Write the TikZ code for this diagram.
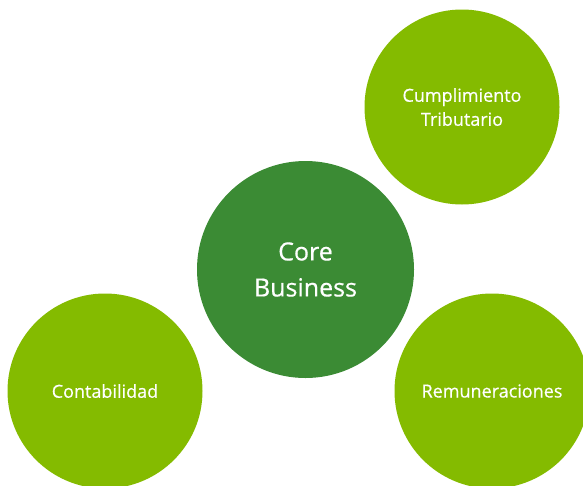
\documentclass[tikz,border=0pt]{standalone}
\usepackage{fontspec}
\setmainfont{Open Sans}
\newfontfamily\labelfont{Open Sans}[FakeBold=0.5]
\definecolor{coregreen}{HTML}{3B8B34}
\definecolor{areagreen}{HTML}{84BB00}
\begin{document}
\begin{tikzpicture}[x=1pt,y=-1pt,
  core/.style={circle, fill=coregreen, draw=none, minimum size=217pt, inner sep=0pt},
  area/.style={circle, fill=areagreen, draw=none, minimum size=195pt, inner sep=0pt},
  bigtext/.style={text=white, align=center, font=\labelfont\fontsize{25}{36}\selectfont},
  smalltext/.style={text=white, align=center, font=\labelfont\fontsize{18}{24}\selectfont}]
\useasboundingbox (0,0) rectangle (583,485);
\begin{scope}
\clip (0,0) rectangle (583,485);
\node [core] (core) at (305.5,269.5) {};
\node [area] (tributario) at (462,107) {};
\node [area] (contabilidad) at (105,391) {};
\node [area] (remuneraciones) at (492,391) {};
\end{scope}
\node [bigtext] (coretext) at (core) {Core\\Business};
\node [smalltext] (tributariotext) at (tributario) {Cumplimiento\\Tributario};
\node [smalltext] (contabilidadtext) at (contabilidad) {Contabilidad};
\node [smalltext] (remuneracionestext) at (remuneraciones) {Remuneraciones};
\end{tikzpicture}
\end{document}
